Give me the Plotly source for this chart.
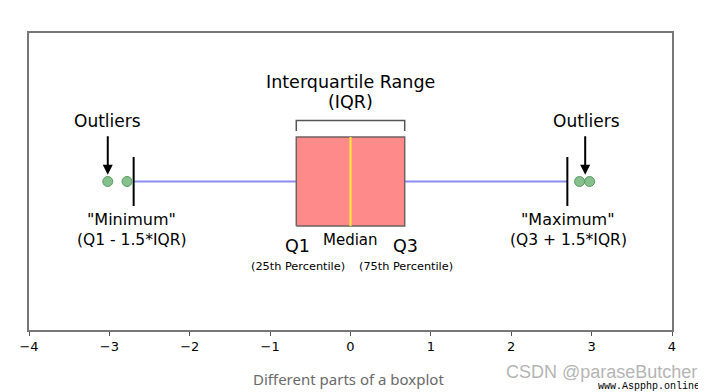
import plotly.graph_objects as go

# Data
q1, median, q3 = -0.6745, 0.0, 0.6745
lower_fence, upper_fence = -2.698, 2.698
outliers_left = [-3.02, -2.78]
outliers_right = [2.85, 2.975]
x_ticks = [-4, -3, -2, -1, 0, 1, 2, 3, 4]
x_tick_labels = ["\u22124", "\u22123", "\u22122", "\u22121", "0", "1", "2", "3", "4"]

BOX_H = 0.30
CAP_H = 0.165
FONT = "DejaVu Sans"

# target plot area in page pixels
PX0, PX1, PY0, PY1 = 26, 671, 33, 330


def px(x):
    return (x - PX0) / (PX1 - PX0)


def py(y):
    return (PY1 - y) / (PY1 - PY0)


fig = go.Figure()

# whiskers
fig.add_trace(go.Scatter(x=[lower_fence, q1, None, q3, upper_fence], y=[0, 0, None, 0, 0],
                         mode="lines", line=dict(color="#8c8cf0", width=2), hoverinfo="skip"))
# box
fig.add_trace(go.Scatter(x=[q1, q3, q3, q1, q1], y=[-BOX_H, -BOX_H, BOX_H, BOX_H, -BOX_H],
                         mode="lines", fill="toself", fillcolor="#ff8a8a",
                         line=dict(color="#6e6262", width=1.5), hoverinfo="skip"))
# median
fig.add_trace(go.Scatter(x=[median, median], y=[-BOX_H, BOX_H], mode="lines",
                         line=dict(color="#ffee33", width=2), hoverinfo="skip"))
# caps
fig.add_trace(go.Scatter(x=[lower_fence, lower_fence, None, upper_fence, upper_fence],
                         y=[-CAP_H, CAP_H, None, -CAP_H, CAP_H], mode="lines",
                         line=dict(color="black", width=2), hoverinfo="skip"))
# outliers
fig.add_trace(go.Scatter(x=outliers_left + outliers_right, y=[0] * 4, mode="markers",
                         marker=dict(size=10, color="#86c08c", line=dict(color="#5a9a62", width=1)),
                         hoverinfo="skip"))
# IQR bracket
fig.add_trace(go.Scatter(x=[q1, q1, q3, q3], y=[0.34, 0.41, 0.41, 0.34], mode="lines",
                         line=dict(color="#555555", width=1.5), hoverinfo="skip"))


def txt(x, y, s, size, color="black", family=FONT, xref="x", yref="y"):
    fig.add_annotation(x=x, y=y, text=s, showarrow=False, xref=xref, yref=yref,
                       xanchor="center", yanchor="middle",
                       font=dict(family=family, size=size, color=color))


txt(0, 0.67, "Interquartile Range", 17.5)
txt(0, 0.535, "(IQR)", 17.5)
txt(-3.02, 0.405, "Outliers", 17)
txt(2.94, 0.405, "Outliers", 17)
txt(-2.72, -0.255, "\"Minimum\"", 16)
txt(-2.72, -0.395, "(Q1 - 1.5*IQR)", 15.5)
txt(2.71, -0.255, "\"Maximum\"", 16)
txt(2.71, -0.395, "(Q3 + 1.5*IQR)", 15.5)
txt(q1 + 0.01, -0.435, "Q1", 17.5)
txt(q3 + 0.01, -0.435, "Q3", 17.5)
txt(0, -0.395, "Median", 15)
txt(q1 + 0.02, -0.575, "(25th Percentile)", 11.3)
txt(q3 + 0.02, -0.575, "(75th Percentile)", 11.3)

# arrows
for xo in [outliers_left[0], 2.92]:
    fig.add_annotation(x=xo, y=0.045, xref="x", yref="y", text="", showarrow=True,
                       ax=0, ay=-40, arrowhead=2, arrowsize=1, arrowwidth=2, arrowcolor="black")

# caption and watermark
txt(px(346), py(379), "Different parts of a boxplot", 15, color="#6a6a6a", family="Noto Sans",
    xref="paper", yref="paper")
txt(px(600), py(372), "CSDN @paraseButcher", 18, color="#b5b5b5", family="Liberation Sans",
    xref="paper", yref="paper")
txt(px(648), py(386), "www.Aspphp.online", 10, color="black", family="Liberation Mono",
    xref="paper", yref="paper")

fig.update_layout(
    width=706, height=392,
    margin=dict(l=11, r=42, t=PY0 - 8, b=392 - PY1 + 8),
    paper_bgcolor="white", plot_bgcolor="white",
    showlegend=False,
    xaxis=dict(range=[-4, 4], tickvals=x_ticks, ticktext=x_tick_labels, showgrid=False, zeroline=False,
               showline=True, linecolor="#777777", linewidth=1.5, mirror=True,
               ticks="outside", ticklen=4, tickcolor="#555555",
               tickfont=dict(family=FONT, size=13, color="black")),
    yaxis=dict(range=[-1, 1], showgrid=False, zeroline=False, showticklabels=False,
               showline=True, linecolor="#777777", linewidth=1.5, mirror=True),
)

fig.write_html("out.html")
